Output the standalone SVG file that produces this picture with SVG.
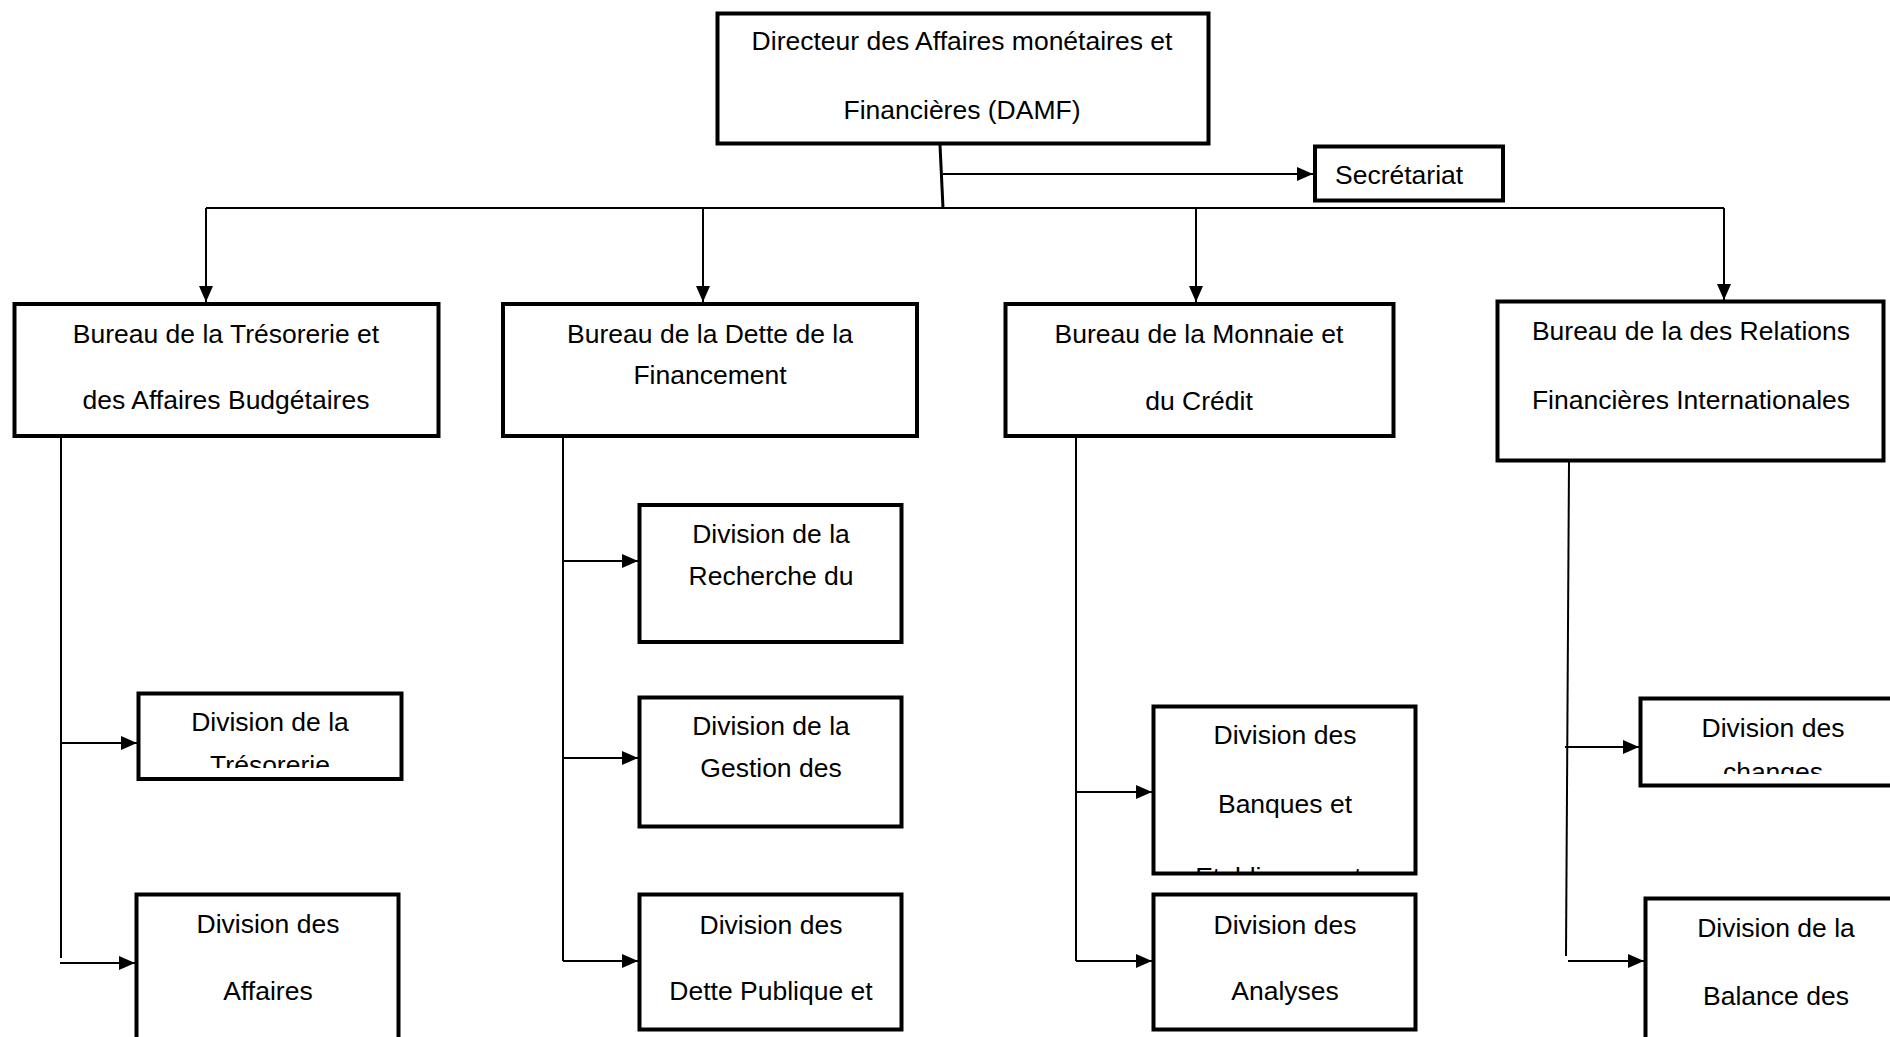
<svg xmlns="http://www.w3.org/2000/svg" width="1890" height="1037" viewBox="0 0 1890 1037">
<style>
.box{fill:#fff;stroke:#000;stroke-width:4}
.t{font-family:"Liberation Sans",Arial,sans-serif;font-size:26.5px;fill:#000;text-anchor:middle}
.c{fill:none;stroke:#000;stroke-width:2}
</style>
<defs>
<marker id="ah" markerUnits="userSpaceOnUse" markerWidth="16" markerHeight="14" refX="16" refY="7" orient="auto">
<path d="M0,0 L16,7 L0,14 z" fill="#000"/>
</marker>
<clipPath id="clipTres"><rect x="139" y="694" width="262" height="74"/></clipPath>
<clipPath id="clipBanq"><rect x="1155" y="708" width="260" height="164"/></clipPath>
<clipPath id="clipChg"><rect x="1641" y="699" width="260" height="75"/></clipPath>
</defs>
<rect width="1890" height="1037" fill="#fff"/>

<g id="connectors">
<path d="M940,145 L943,208" fill="none" stroke="#000" stroke-width="3"/>
<path class="c" d="M943,174 L1313,174" marker-end="url(#ah)"/>
<path class="c" d="M206,208 L1724,208"/>
<path class="c" d="M206,208 L206,302" marker-end="url(#ah)"/>
<path class="c" d="M703,208 L703,302" marker-end="url(#ah)"/>
<path class="c" d="M1196,208 L1196,302" marker-end="url(#ah)"/>
<path class="c" d="M1724,208 L1724,300" marker-end="url(#ah)"/>
<path class="c" d="M61,437 L61,958"/>
<path class="c" d="M61,743 L137,743" marker-end="url(#ah)"/>
<path class="c" d="M60,963 L135,963" marker-end="url(#ah)"/>
<path class="c" d="M563,437 L563,961"/>
<path class="c" d="M563,561 L638,561" marker-end="url(#ah)"/>
<path class="c" d="M563,758 L638,758" marker-end="url(#ah)"/>
<path class="c" d="M563,961 L638,961" marker-end="url(#ah)"/>
<path class="c" d="M1076,437 L1076,961"/>
<path class="c" d="M1076,792 L1152,792" marker-end="url(#ah)"/>
<path class="c" d="M1076,961 L1152,961" marker-end="url(#ah)"/>
<path class="c" d="M1569,462 L1566,956"/>
<path class="c" d="M1565,747 L1639,747" marker-end="url(#ah)"/>
<path class="c" d="M1568,961 L1644,961" marker-end="url(#ah)"/>
</g>

<g id="damf">
<rect class="box" x="717.5" y="13.5" width="491" height="130"/>
<text class="t" x="962" y="50">Directeur des Affaires monétaires et</text>
<text class="t" x="962" y="119">Financières (DAMF)</text>
</g>

<g id="secretariat">
<rect class="box" x="1315" y="146.5" width="188" height="54"/>
<text class="t" x="1335" y="184" style="text-anchor:start">Secrétariat</text>
</g>

<g id="bureau-tresorerie">
<rect class="box" x="14.5" y="304" width="424" height="132"/>
<text class="t" x="226" y="343">Bureau de la Trésorerie et</text>
<text class="t" x="226" y="409">des Affaires Budgétaires</text>
</g>

<g id="bureau-dette">
<rect class="box" x="503" y="304" width="414" height="132"/>
<text class="t" x="710" y="343">Bureau de la Dette de la</text>
<text class="t" x="710" y="384">Financement</text>
</g>

<g id="bureau-monnaie">
<rect class="box" x="1005.5" y="304" width="388" height="132"/>
<text class="t" x="1199" y="343">Bureau de la Monnaie et</text>
<text class="t" x="1199" y="410">du Crédit</text>
</g>

<g id="bureau-relations">
<rect class="box" x="1497.5" y="301.5" width="386" height="159"/>
<text class="t" x="1691" y="340">Bureau de la des Relations</text>
<text class="t" x="1691" y="409">Financières Internationales</text>
</g>

<g id="div-tresorerie">
<rect class="box" x="138.5" y="693.5" width="263" height="85.5"/>
<text class="t" x="270" y="731">Division de la</text>
<text class="t" x="270" y="774" clip-path="url(#clipTres)">Trésorerie</text>
</g>

<g id="div-affaires">
<rect class="box" x="136.5" y="894.5" width="262" height="160"/>
<text class="t" x="268" y="933">Division des</text>
<text class="t" x="268" y="1000">Affaires</text>
</g>

<g id="div-recherche">
<rect class="box" x="639.5" y="505" width="262" height="137"/>
<text class="t" x="771" y="543">Division de la</text>
<text class="t" x="771" y="585">Recherche du</text>
</g>

<g id="div-gestion">
<rect class="box" x="639.5" y="697.5" width="262" height="129"/>
<text class="t" x="771" y="735">Division de la</text>
<text class="t" x="771" y="777">Gestion des</text>
</g>

<g id="div-dette-publique">
<rect class="box" x="639.5" y="894.5" width="262" height="135"/>
<text class="t" x="771" y="934">Division des</text>
<text class="t" x="771" y="1000">Dette Publique et</text>
</g>

<g id="div-banques">
<rect class="box" x="1153.5" y="706.5" width="262" height="167"/>
<text class="t" x="1285" y="744">Division des</text>
<text class="t" x="1285" y="813">Banques et</text>
<text class="t" x="1285" y="886" clip-path="url(#clipBanq)">Etablissements</text>
</g>

<g id="div-analyses">
<rect class="box" x="1153.5" y="894.5" width="262" height="135"/>
<text class="t" x="1285" y="934">Division des</text>
<text class="t" x="1285" y="1000">Analyses</text>
</g>

<g id="div-changes">
<rect class="box" x="1640.5" y="698.5" width="265" height="87"/>
<text class="t" x="1773" y="737">Division des</text>
<text class="t" x="1773" y="781" clip-path="url(#clipChg)">changes</text>
</g>

<g id="div-balance">
<rect class="box" x="1645.5" y="898.5" width="265" height="160"/>
<text class="t" x="1776" y="937">Division de la</text>
<text class="t" x="1776" y="1005">Balance des</text>
</g>
</svg>
